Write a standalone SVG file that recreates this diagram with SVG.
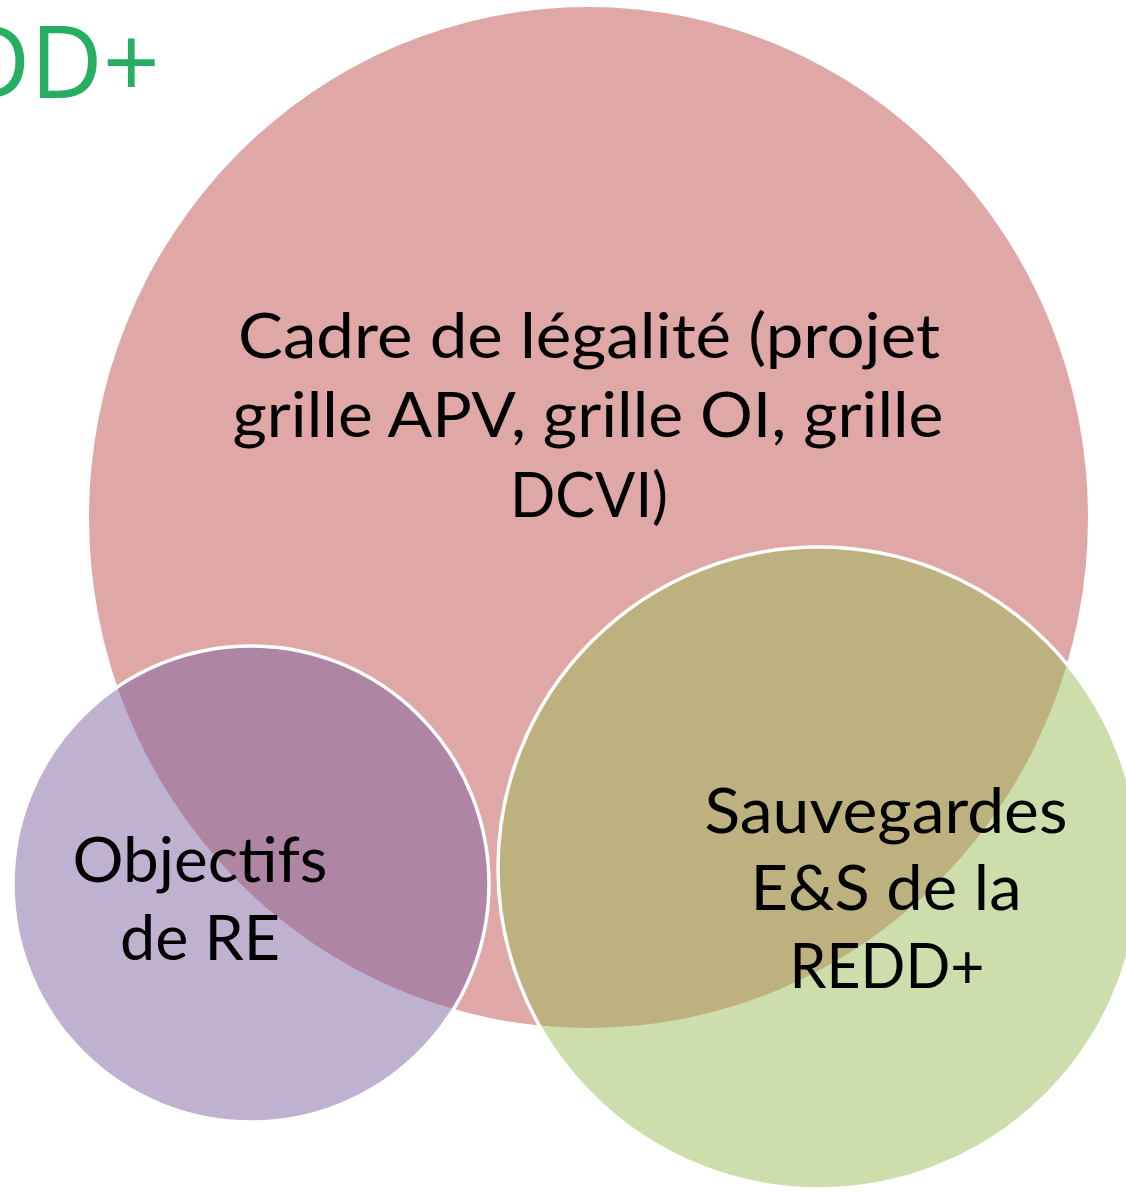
<svg xmlns="http://www.w3.org/2000/svg" width="1126" height="1193" viewBox="0 0 1126 1193">
<style>
.lbl{font-family:Lato,"Open Sans","Liberation Sans",sans-serif;font-size:61px;fill:#000;text-anchor:middle}
.ttl{font-family:"Open Sans",Lato,"Liberation Sans",sans-serif;font-size:100px;fill:#27AE60;text-anchor:end}
.c{stroke:#fff;stroke-width:3.5}
</style>
<rect width="1126" height="1193" fill="#fff"/>
<text class="ttl" x="160" y="98">DD+</text>
<g id="cadre">
<ellipse cx="588.5" cy="517.5" rx="499.5" ry="510.5" fill="#C0504D" fill-opacity="0.5"/>
</g>
<g id="objectifs">
<circle class="c" cx="251" cy="884" r="238" fill="#8064A2" fill-opacity="0.5"/>
</g>
<g id="sauvegardes">
<circle class="c" cx="819" cy="868" r="321" fill="#9BBB59" fill-opacity="0.5"/>
</g>
<g id="labels">
<text class="lbl" x="589" y="358" textLength="702" lengthAdjust="spacingAndGlyphs">Cadre de légalité (projet</text>
<text class="lbl" x="588" y="437" textLength="711" lengthAdjust="spacingAndGlyphs">grille APV, grille OI, grille</text>
<text class="lbl" x="589" y="517" textLength="158" lengthAdjust="spacingAndGlyphs">DCVI)</text>
<text class="lbl" x="200" y="882" textLength="255" lengthAdjust="spacingAndGlyphs">Objectifs</text>
<text class="lbl" x="200" y="960" textLength="160" lengthAdjust="spacingAndGlyphs">de RE</text>
<text class="lbl" x="886" y="833" textLength="363" lengthAdjust="spacingAndGlyphs">Sauvegardes</text>
<text class="lbl" x="886" y="910" textLength="271" lengthAdjust="spacingAndGlyphs">E&amp;S de la</text>
<text class="lbl" x="887" y="988" textLength="195" lengthAdjust="spacingAndGlyphs">REDD+</text>
</g>
<g id="connectors"></g>
</svg>
